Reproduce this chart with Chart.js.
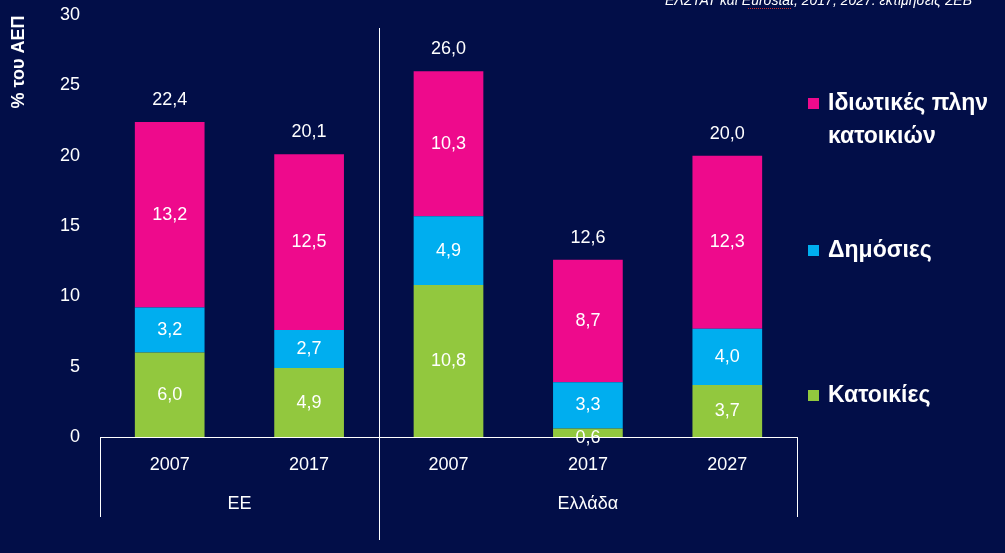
<!DOCTYPE html>
<html><head><meta charset="utf-8">
<script src="https://cdn.jsdelivr.net/npm/chart.js@4.4.0/dist/chart.umd.min.js"></script>
<style>html,body{margin:0;padding:0;background:#020e48;}#wrap{width:1005px;height:553px;position:relative;}</style>
</head><body><div id="wrap"><canvas id="c" width="1005" height="553"></canvas></div>
<script>
const categories = ['2007','2017','2007','2017','2027'];
const groups = [{label:'ΕΕ', from:0, to:1},{label:'Ελλάδα', from:2, to:4}];
const housing = [6.0, 4.9, 10.8, 0.6, 3.7];
const publicInv = [3.2, 2.7, 4.9, 3.3, 4.0];
const privateNonHousing = [13.2, 12.5, 10.3, 8.7, 12.3];
const totals = [22.4, 20.1, 26.0, 12.6, 20.0];
const yTicks = [0,5,10,15,20,25,30];
const seriesNames = ['Κατοικίες','Δημόσιες','Ιδιωτικές πλην κατοικιών'];
const yTitle = '% του ΑΕΠ';
const sourceText = 'ΕΛΣΤΑΤ και Eurostat, 2017, 2027: εκτιμήσεις ΣΕΒ';

const colors = ['#92c83e','#00aeef','#ee0a8c'];
const fmt = v => v.toFixed(1).replace('.', ',');
const numFont = '18px "Liberation Sans", Arial, sans-serif';

const overlay = {
  id:'overlay',
  afterDatasetsDraw(chart){
    const ctx = chart.ctx, x = chart.scales.x, y = chart.scales.y;
    ctx.save();
    ctx.fillStyle = '#fff'; ctx.font = numFont; ctx.textAlign='center'; ctx.textBaseline='middle';
    chart.data.datasets.forEach((ds, di) => {
      const meta = chart.getDatasetMeta(di);
      meta.data.forEach((bar, i) => {
        let yy = (bar.y + bar.base)/2;
        if (ds.data[i] < 1) yy = bar.base + 1;
        ctx.fillText(fmt(ds.data[i]), bar.x, yy);
      });
    });
    totals.forEach((t,i) => {
      ctx.fillText(fmt(t), x.getPixelForValue(i), y.getPixelForValue(t) - 22);
    });
    ctx.restore();
  },
  afterDraw(chart){
    const ctx = chart.ctx, x = chart.scales.x, ca = chart.chartArea;
    ctx.save();
    ctx.strokeStyle = '#fff'; ctx.lineWidth = 1;
    const step = x.getPixelForValue(1) - x.getPixelForValue(0);
    const line = (px, y0, y1) => { ctx.beginPath(); ctx.moveTo(Math.round(px)+0.5, y0); ctx.lineTo(Math.round(px)+0.5, y1); ctx.stroke(); };
    line(ca.left, ca.bottom, ca.bottom + 80);
    line(ca.right, ca.bottom, ca.bottom + 80);
    line(x.getPixelForValue(1) + step/2, 28, ca.bottom + 103);
    ctx.fillStyle = '#fff'; ctx.font = numFont; ctx.textAlign='center'; ctx.textBaseline='middle';
    groups.forEach(g => {
      const cx = (x.getPixelForValue(g.from) + x.getPixelForValue(g.to))/2;
      ctx.fillText(g.label, cx, ca.bottom + 67);
    });
    ctx.save();
    ctx.translate(19, 62); ctx.rotate(-Math.PI/2);
    ctx.font = 'bold 18px "Liberation Sans", Arial, sans-serif';
    ctx.fillText(yTitle, 0, 0);
    ctx.restore();
    const items = [
      {c:colors[2], lines:['Ιδιωτικές πλην','κατοικιών'], y:104},
      {c:colors[1], lines:[seriesNames[1]], y:251},
      {c:colors[0], lines:[seriesNames[0]], y:396}
    ];
    ctx.textAlign='left'; ctx.font = 'bold 23px "Liberation Sans", Arial, sans-serif';
    items.forEach(it => {
      ctx.fillStyle = it.c; ctx.fillRect(808, it.y - 6, 11, 11);
      ctx.fillStyle = '#fff';
      it.lines.forEach((l, k) => ctx.fillText(l, 828, it.y + k*33));
    });
    ctx.font = 'italic 14px "Liberation Sans", Arial, sans-serif';
    ctx.textAlign='right'; ctx.textBaseline='alphabetic';
    ctx.fillText(sourceText, 972, 5);
    ctx.strokeStyle = '#d03030'; ctx.setLineDash([1,1]);
    ctx.beginPath(); ctx.moveTo(748, 8.5); ctx.lineTo(792, 8.5); ctx.stroke();
    ctx.restore();
  }
};

new Chart(document.getElementById('c'), {
  type:'bar',
  data:{
    labels: categories,
    datasets:[
      {label:seriesNames[0], data:housing, backgroundColor:colors[0]},
      {label:seriesNames[1], data:publicInv, backgroundColor:colors[1]},
      {label:seriesNames[2], data:privateNonHousing, backgroundColor:colors[2]}
    ]
  },
  options:{
    responsive:false, animation:false,
    layout:{padding:{top:15, right:208, left:0, bottom:0}},
    datasets:{bar:{barPercentage:0.5, categoryPercentage:1.0}},
    plugins:{legend:{display:false}, tooltip:{enabled:false}},
    scales:{
      x:{stacked:true,
         grid:{display:false, drawTicks:false},
         border:{display:true, color:'#ffffff', width:1},
         ticks:{color:'#fff', font:{family:'"Liberation Sans", Arial, sans-serif', size:18}, padding:17, maxRotation:0},
         afterFit(s){ s.height = 116; s.paddingLeft = 0; s.paddingRight = 0; }
      },
      y:{stacked:true, min:0, max:30,
         afterBuildTicks(s){ s.ticks = yTicks.map(v=>({value:v})); },
         grid:{display:false, drawTicks:false},
         border:{display:false},
         ticks:{color:'#fff', font:{family:'"Liberation Sans", Arial, sans-serif', size:18}, padding:20},
         afterFit(s){ s.width = 100; s.paddingTop = 0; s.paddingBottom = 0; }
      }
    }
  },
  plugins:[overlay]
});
</script></body></html>
